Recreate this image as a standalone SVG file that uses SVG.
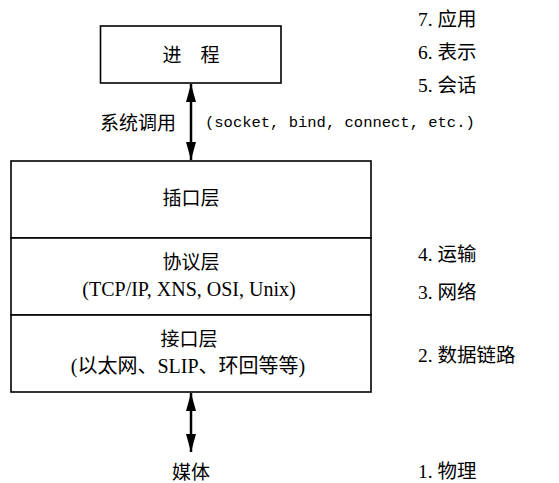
<svg xmlns="http://www.w3.org/2000/svg" width="559" height="483" viewBox="0 0 559 483">
<style>
.box{fill:#fff;stroke:#000;stroke-width:1.6}
.cj{font-family:"Liberation Sans","Noto Sans CJK SC",sans-serif;font-size:19px;fill:#000}
.sf{font-family:"Liberation Serif","Noto Sans CJK SC",serif;font-size:20px;fill:#000}
.osi{font-family:"Liberation Serif","Noto Sans CJK SC",serif;font-size:19.5px;fill:#000}
.mono{font-family:"Liberation Mono",monospace;font-size:15.5px;fill:#000}
.ln{stroke:#000;stroke-width:2.5;fill:none}
</style>
<defs>
<marker id="ah" viewBox="0 0 18 10" refX="18" refY="5" markerWidth="18" markerHeight="10" markerUnits="userSpaceOnUse" orient="auto-start-reverse">
<path d="M0,0 L18,5 L0,10 Z" fill="#000"/>
</marker>
</defs>
<rect width="559" height="483" fill="#fff"/>
<g id="process">
<rect class="box" x="100.5" y="26" width="180.5" height="57"/>
<text class="cj" x="172" y="62" text-anchor="middle">进</text>
<text class="cj" x="210" y="62" text-anchor="middle">程</text>
</g>
<g id="socket-layer">
<rect class="box" x="11" y="161" width="360" height="77"/>
<text class="cj" x="191" y="205" text-anchor="middle">插口层</text>
</g>
<g id="protocol-layer">
<rect class="box" x="11" y="238" width="360" height="77"/>
<text class="cj" x="191" y="269" text-anchor="middle">协议层</text>
<text class="sf" x="189" y="296" text-anchor="middle">(TCP/IP, XNS, OSI, Unix)</text>
</g>
<g id="interface-layer">
<rect class="box" x="11" y="315" width="360" height="77"/>
<text class="cj" x="189" y="346" text-anchor="middle">接口层</text>
<text class="sf" x="188" y="373" text-anchor="middle">(以太网、SLIP、环回等等)</text>
</g>
<g id="media">
<text class="cj" x="191" y="479" text-anchor="middle">媒体</text>
</g>
<g id="connectors">
<line class="ln" x1="191" y1="84" x2="191" y2="160" marker-start="url(#ah)" marker-end="url(#ah)"/>
<line class="ln" x1="191" y1="393" x2="191" y2="452" marker-start="url(#ah)" marker-end="url(#ah)"/>
</g>
<g id="labels">
<text class="cj" x="100" y="130">系统调用</text>
<text class="mono" x="205" y="127">(socket, bind, connect, etc.)</text>
</g>
<g id="osi">
<text class="osi" x="418" y="26">7. 应用</text>
<text class="osi" x="418" y="59">6. 表示</text>
<text class="osi" x="418" y="92">5. 会话</text>
<text class="osi" x="418" y="261">4. 运输</text>
<text class="osi" x="418" y="299">3. 网络</text>
<text class="osi" x="418" y="362">2. 数据链路</text>
<text class="osi" x="418" y="478">1. 物理</text>
</g>
</svg>
